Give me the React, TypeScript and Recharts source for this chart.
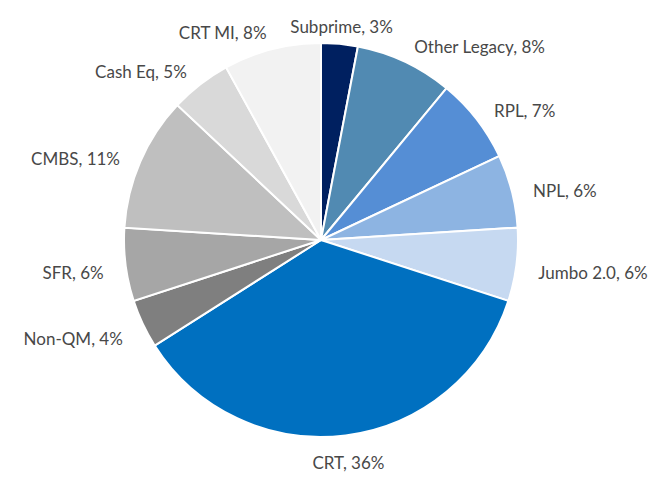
import { PieChart, Pie, Cell } from 'recharts'

const SECTORS = ['Subprime', 'Other Legacy', 'RPL', 'NPL', 'Jumbo 2.0', 'CRT', 'Non-QM', 'SFR', 'CMBS', 'Cash Eq', 'CRT MI']
const SHARES = [3, 8, 7, 6, 6, 36, 4, 6, 11, 5, 8]
const COLORS = [
  '#002060',
  '#518AB2',
  '#558ED5',
  '#8DB4E2',
  '#C6D9F1',
  '#0070C0',
  '#7F7F7F',
  '#A6A6A6',
  '#BFBFBF',
  '#D9D9D9',
  '#F2F2F2',
]

const DATA = SECTORS.map((name, i) => ({ name, value: SHARES[i] }))

const RAD = Math.PI / 180
const FONT_SIZE = 17

// outside-end label, roughly how Excel places them
function renderLabel(props: any) {
  const { cx, cy, midAngle, outerRadius, name, value } = props
  const ux = Math.cos(-midAngle * RAD)
  const uy = Math.sin(-midAngle * RAD)
  const r = outerRadius + 22
  const x = cx + r * ux
  const y = cy + r * uy + 5
  const anchor = ux > 0.2 ? 'start' : ux < -0.2 ? 'end' : 'middle'
  return (
    <text
      x={x}
      y={y}
      textAnchor={anchor}
      dominantBaseline="central"
      fill="#484848"
      fontSize={FONT_SIZE}
      fontFamily="Lato, 'Open Sans', sans-serif"
    >
      {`${name}, ${value}%`}
    </text>
  )
}

export default function App() {
  return (
    <div style={{ position: 'absolute', left: 0, top: 0, width: 663, height: 483, background: '#fff' }}>
      <PieChart width={663} height={483} margin={{ top: 0, right: 0, bottom: 0, left: 0 }}>
        <Pie
          data={DATA}
          dataKey="value"
          nameKey="name"
          cx={321}
          cy={240}
          outerRadius={197}
          startAngle={90}
          endAngle={-270}
          stroke="#ffffff"
          strokeWidth={2}
          label={renderLabel}
          labelLine={false}
          isAnimationActive={false}
        >
          {DATA.map((d, i) => (
            <Cell key={d.name} fill={COLORS[i]} />
          ))}
        </Pie>
      </PieChart>
    </div>
  )
}
